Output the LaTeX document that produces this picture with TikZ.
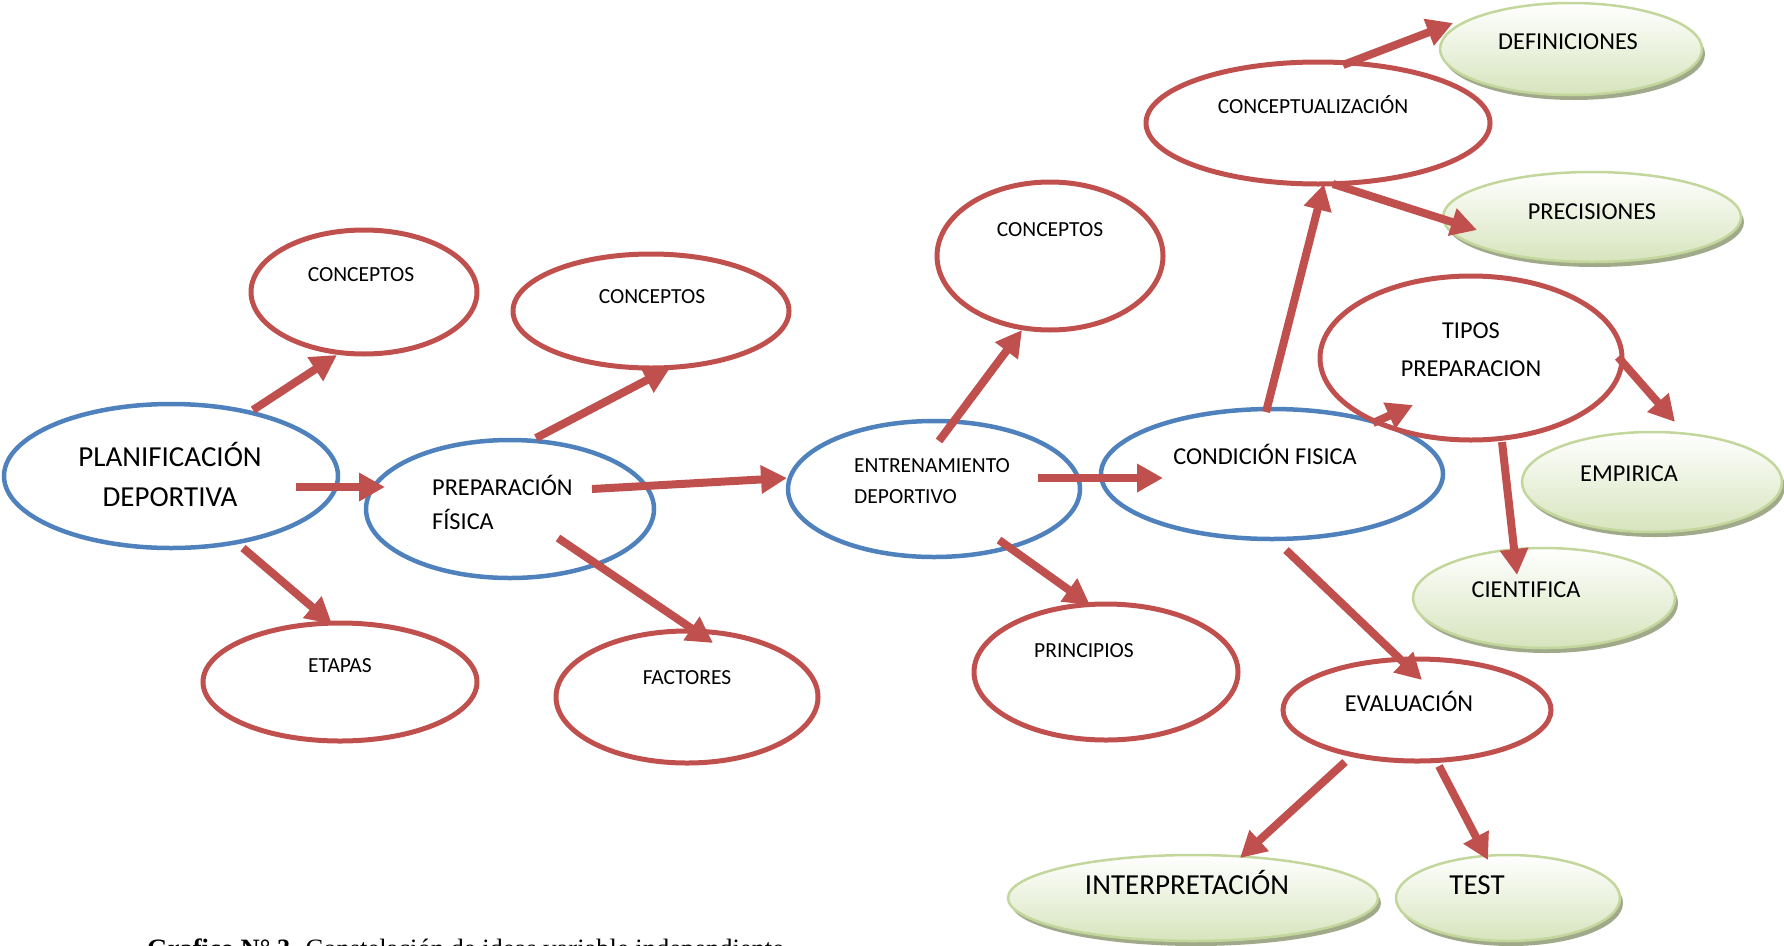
\documentclass[tikz,border=0pt]{standalone}
\usepackage{fontspec}
\setmainfont{Carlito}
\newfontfamily\capfont{Liberation Serif}
\usetikzlibrary{arrows.meta,shapes.geometric,shadows}

\definecolor{ablue}{RGB}{79,129,189}
\definecolor{ared}{RGB}{192,80,77}
\definecolor{gborder}{RGB}{195,214,155}
\definecolor{gfill}{RGB}{215,228,189}
\definecolor{gshadow}{RGB}{160,170,138}

\tikzset{
  blueoval/.style={ellipse, draw=ablue, line width=4.5pt, inner sep=0pt},
  redoval/.style={ellipse, draw=ared, line width=5pt, inner sep=0pt},
  greenoval/.style={ellipse, draw=gborder, line width=2.5pt, inner sep=0pt,
    top color=white, bottom color=gfill,
    drop shadow={shadow xshift=3pt, shadow yshift=-5pt, fill=gshadow, opacity=1}},
  arr/.style={draw=ared, line width=8pt, -{Triangle[length=26pt,width=27pt]}},
  tsmall/.style={inner sep=0pt, font=\fontsize{21.5}{26}\selectfont, text height=13.8pt, text depth=0pt},
  tmid/.style={inner sep=0pt, font=\fontsize{24.3}{29}\selectfont, text height=15.6pt, text depth=0pt},
  tlarge/.style={inner sep=0pt, font=\fontsize{29}{34}\selectfont, text height=18.7pt, text depth=0pt},
}

\begin{document}
\begin{tikzpicture}[x=1pt, y=-1pt]
\useasboundingbox (0,0) rectangle (1784,945);
\clip (0,0) rectangle (1784,945);

% main chain (blue)
\node[blueoval, minimum width=334pt, minimum height=144pt] (plan) at (171,476) {};
\node[blueoval, minimum width=288pt, minimum height=138pt] (prep) at (510,509) {};
\node[blueoval, minimum width=292pt, minimum height=136pt] (entr) at (934,489) {};
\node[blueoval, minimum width=342pt, minimum height=130pt] (cond) at (1272,474) {};

% secondary ideas (red)
\node[redoval, minimum width=226pt, minimum height=124pt] (c1) at (364,292) {};
\node[redoval, minimum width=276pt, minimum height=114pt] (c2) at (651,311) {};
\node[redoval, minimum width=274pt, minimum height=118pt] (etapas) at (340,682) {};
\node[redoval, minimum width=262pt, minimum height=132pt] (factores) at (687,697) {};
\node[redoval, minimum width=226pt, minimum height=148pt] (c3) at (1050,256) {};
\node[redoval, minimum width=264pt, minimum height=136pt] (princ) at (1106,672) {};
\node[redoval, minimum width=344pt, minimum height=122pt] (concep) at (1318,123) {};
\node[redoval, minimum width=302pt, minimum height=164pt] (tipos) at (1471,358) {};
\node[redoval, minimum width=268pt, minimum height=102pt] (eval) at (1417,710) {};

% leaves (green)
\node[greenoval, minimum width=262pt, minimum height=92pt] (def) at (1571,49) {};
\node[greenoval, minimum width=298pt, minimum height=90pt] (prec) at (1592,217) {};
\node[greenoval, minimum width=260pt, minimum height=100pt] (emp) at (1652,482) {};
\node[greenoval, minimum width=262pt, minimum height=100pt] (cien) at (1544,598) {};
\node[greenoval, minimum width=370pt, minimum height=86pt] (interp) at (1193,898) {};
\node[greenoval, minimum width=224pt, minimum height=86pt] (test) at (1508,898) {};

% connectors
\draw[arr] ([shift={(82,-66)}]plan.center) -- ([shift={(-27,63)}]c1.center);
\draw[arr] ([shift={(125,11)}]plan.center) -- ([shift={(-125,-22)}]prep.center);
\draw[arr] ([shift={(72,72)}]plan.center) -- ([shift={(-8,-58)}]etapas.center);
\draw[arr] ([shift={(26,-71)}]prep.center) -- ([shift={(19,57)}]c2.center);
\draw[arr] ([shift={(82,-20)}]prep.center) -- ([shift={(-147,-11)}]entr.center);
\draw[arr] ([shift={(48,29)}]prep.center) -- ([shift={(26,-54)}]factores.center);
\draw[arr] ([shift={(5,-48)}]entr.center) -- ([shift={(-28,74)}]c3.center);
\draw[arr] ([shift={(104,-11)}]entr.center) -- ([shift={(-109,4)}]cond.center);
\draw[arr] ([shift={(65,51)}]entr.center) -- ([shift={(-16,-67)}]princ.center);
\draw[arr] ([shift={(-6,-62)}]cond.center) -- ([shift={(6,61)}]concep.center);
\draw[arr] ([shift={(101,-51)}]cond.center) -- ([shift={(-58,47)}]tipos.center);
\draw[arr] ([shift={(14,76)}]cond.center) -- ([shift={(5,-30)}]eval.center);
\draw[arr] ([shift={(25,-58)}]concep.center) -- ([shift={(-118,-26)}]def.center);
\draw[arr] ([shift={(15,61)}]concep.center) -- ([shift={(-115,13)}]prec.center);
\draw[arr] ([shift={(147,-1)}]tipos.center) -- ([shift={(23,-60)}]emp.center);
\draw[arr] ([shift={(31,84)}]tipos.center) -- ([shift={(-27,-23)}]cien.center);
\draw[arr] ([shift={(-72,52)}]eval.center) -- ([shift={(47,-40)}]interp.center);
\draw[arr] ([shift={(22,56)}]eval.center) -- ([shift={(-20,-38)}]test.center);

% labels
\node[tlarge] (t-plan1) at (170,457) {PLANIFICACIÓN};
\node[tlarge] (t-plan2) at (170,497) {DEPORTIVA};
\node[tmid, anchor=west] (t-prep1) at (432,488) {PREPARACIÓN};
\node[tmid, anchor=west] (t-prep2) at (432,522) {FÍSICA};
\node[tsmall, anchor=west] (t-entr1) at (854,466) {ENTRENAMIENTO};
\node[tsmall, anchor=west] (t-entr2) at (854,497) {DEPORTIVO};
\node[tmid] (t-cond) at (1265,457) {CONDICIÓN FISICA};
\node[tsmall] (t-c1) at (361,275) {CONCEPTOS};
\node[tsmall] (t-c2) at (652,297) {CONCEPTOS};
\node[tsmall] (t-etapas) at (340,666) {ETAPAS};
\node[tsmall] (t-factores) at (687,678) {FACTORES};
\node[tsmall] (t-c3) at (1050,230) {CONCEPTOS};
\node[tsmall] (t-princ) at (1084,651) {PRINCIPIOS};
\node[tsmall] (t-concep) at (1313,107) {CONCEPTUALIZACIÓN};
\node[tmid] (t-tipos1) at (1471,331) {TIPOS};
\node[tmid] (t-tipos2) at (1471,369) {PREPARACION};
\node[tmid] (t-eval) at (1409,704) {EVALUACIÓN};
\node[tmid] (t-def) at (1568,42) {DEFINICIONES};
\node[tmid] (t-prec) at (1592,212) {PRECISIONES};
\node[tmid] (t-emp) at (1629,474) {EMPIRICA};
\node[tmid] (t-cien) at (1526,590) {CIENTIFICA};
\node[tlarge] (t-interp) at (1187,885) {INTERPRETACIÓN};
\node[tlarge] (t-test) at (1477,885) {TEST};

% caption, cut by the lower edge
\node[anchor=base west, inner sep=0pt, font=\capfont\fontsize{26.5}{30}\selectfont] (caption) at (147,957)
  {\textbf{Grafico N° 3.} Constelación de ideas variable independiente};
\end{tikzpicture}
\end{document}
